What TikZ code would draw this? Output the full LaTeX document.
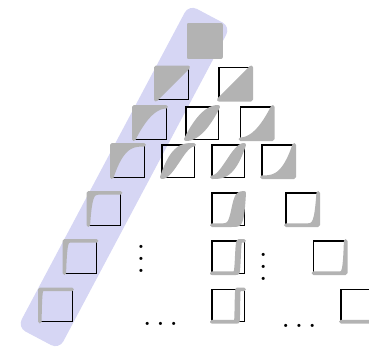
\documentclass[tikz,border=0pt]{standalone}
\usetikzlibrary{calc}

\definecolor{bandblue}{RGB}{214,214,244}
\definecolor{shade}{RGB}{179,179,179}

\tikzset{
  cell/.style={draw=black, line width=1.4pt},
  region/.style={fill=shade, draw=shade, line width=3.6pt, line join=round},
  smooth curve/.style={samples=80},
  steep curve/.style={samples=400},
  band/.style={fill=bandblue, rounded corners=9pt},
  dots/.style={inner sep=0pt, scale=3},
  declare function={
    sig(\t,\c,\s)=1/(1+exp(-max(-9,min(9,(\t-\c)/\s))));
  }
}

% one unit cell: black frame plus the shaded region #3, centred at (#1,#2)
\newcommand\cellat[3]{%
  \begin{scope}[shift={(#1-16.2,#2+16.2)}, x=32.4pt, y=32.4pt]
    \draw[cell] (0,0) rectangle (1,1);
    \path[region] #3;
  \end{scope}}

\begin{document}
\begin{tikzpicture}[x=1pt, y=-1pt]
  \useasboundingbox (0,0) rectangle (369,351);

  % highlighted leftmost diagonal
  \fill[band] (230.5,26.7) -- (188.9,4.7) -- (17.5,327.3) -- (59.1,349.3) -- cycle;

  % row 0
  \cellat{204.5}{41}{(0,0) rectangle (1,1)}

  % row 1
  \cellat{172}{83.5}{(0,0) -- (1,1) -- (0,1) -- cycle}
  \cellat{235}{83.5}{(0,0) -- (1,0) -- (1,1) -- cycle}

  % row 2
  \cellat{150}{123}{plot[smooth curve, domain=0:1] (\x,{2*\x-\x^2}) -- (0,1) -- cycle}
  \cellat{202}{123}{plot[smooth curve, domain=0:1] (\x,{\x^2})
      -- plot[smooth curve, domain=1:0] (\x,{2*\x-\x^2}) -- cycle}
  \cellat{256.5}{123}{(0,0) -- (1,0) -- plot[smooth curve, domain=1:0] (\x,{\x^2}) -- cycle}

  % row 3
  \cellat{128}{161}{plot[smooth curve, domain=0:1] (\x,{1-(1-\x)^3}) -- (0,1) -- cycle}
  \cellat{178}{161}{plot[smooth curve, domain=0:1] (\x,{3*\x^2-2*\x^3})
      -- plot[smooth curve, domain=1:0] (\x,{1-(1-\x)^3}) -- cycle}
  \cellat{228}{161}{plot[smooth curve, domain=0:1] (\x,{\x^3})
      -- plot[smooth curve, domain=1:0] (\x,{3*\x^2-2*\x^3}) -- cycle}
  \cellat{278}{161}{(0,0) -- (1,0) -- plot[smooth curve, domain=1:0] (\x,{\x^3}) -- cycle}

  % row 4
  \cellat{104.5}{209}{plot[steep curve, domain=0:1] (\x,{1-(1-\x)^15}) -- (0,1) -- cycle}
  \cellat{228}{209}{plot[steep curve, domain=0:1] (\x,{\x^18})
      -- plot[steep curve, domain=1:0] (\x,{sig(\x,0.66,0.055)}) -- (0,0) -- cycle}
  \cellat{302}{209}{(0,0) -- (1,0) -- plot[steep curve, domain=1:0] (\x,{\x^15}) -- cycle}

  % row 5
  \cellat{80.5}{257}{plot[steep curve, domain=0:1] (\x,{1-(1-\x)^30}) -- (0,1) -- cycle}
  \cellat{228}{257}{(0,0) -- plot[steep curve, domain=0:1] (\x,{sig(\x,0.84,0.011)}) -- (1,1)
      -- plot[steep curve, domain=1:0] (\x,{sig(\x,0.77,0.013)}) -- (0,0) -- cycle}
  \cellat{329.5}{257}{(0,0) -- (1,0) -- plot[steep curve, domain=1:0] (\x,{\x^30}) -- cycle}

  % row 6
  \cellat{56}{305.5}{plot[steep curve, domain=0:1] (\x,{1-(1-\x)^60}) -- (0,1) -- cycle}
  \cellat{228}{305.5}{(0,0) -- plot[steep curve, domain=0:1] (\x,{sig(\x,0.82,0.004)}) -- (1,1)
      -- plot[steep curve, domain=1:0] (\x,{sig(\x,0.76,0.005)}) -- (0,0) -- cycle}
  \cellat{357}{305.5}{(0,0) -- (1,0) -- plot[steep curve, domain=1:0] (\x,{\x^60}) -- cycle}

  % continuation marks
  \node[dots] (vdotsA) at (141,250) {$\vdots$};
  \node[dots] (vdotsB) at (263.3,258) {$\vdots$};
  \node[dots] (hdotsA) at (160.5,324) {$\ldots$};
  \node[dots] (hdotsB) at (299,326) {$\ldots$};
\end{tikzpicture}
\end{document}
